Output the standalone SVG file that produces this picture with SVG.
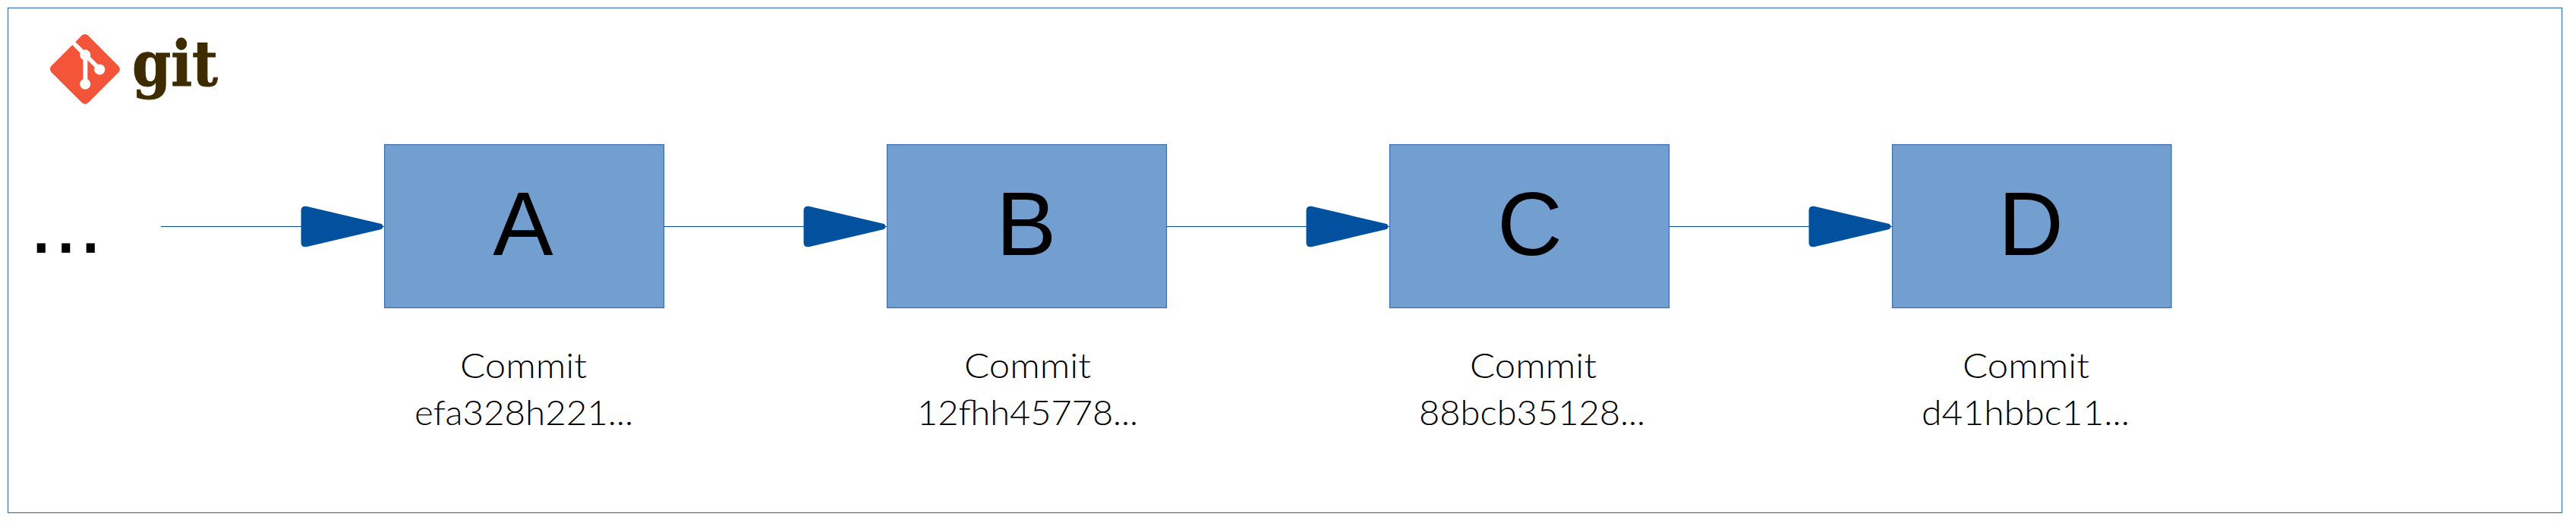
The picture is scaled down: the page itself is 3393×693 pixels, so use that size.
<svg xmlns="http://www.w3.org/2000/svg" width="3393" height="693" viewBox="0 0 3393 693">
  <style>
    .frame { fill: #ffffff; stroke: #3a6fb0; stroke-width: 1.2; }
    .box { fill: #739ed0; stroke: #3a6dac; stroke-width: 1.2; }
    .wire { stroke: #03519f; stroke-width: 1.2; fill: none; marker-end: url(#head); }
    .letter { font-family: "Liberation Sans", Arial, sans-serif; font-size: 119px; fill: #000; text-anchor: middle; }
    .cap { font-family: Lato, "Open Sans", sans-serif; font-weight: 300; font-size: 46px; fill: #000; }
    .dots { font-family: "Liberation Sans", Arial, sans-serif; font-size: 117px; fill: #000; }
    .word { font-family: "DejaVu Serif", "Liberation Serif", serif; font-weight: bold; font-size: 82px; fill: #3e2c00; stroke: #3e2c00; stroke-width: 1; }
  </style>
  <defs>
    <marker id="head" markerUnits="userSpaceOnUse" markerWidth="110" markerHeight="56" refX="110" refY="28" orient="auto" overflow="visible">
      <path d="M0,7 Q0,0.5 7,1.2 L106,24.6 Q110,28 106,31.4 L7,54.8 Q0,55.5 0,49 Z" fill="#02519f"/>
    </marker>
  </defs>
  <rect width="3393" height="693" fill="#ffffff"/>
  <rect id="frame" class="frame" x="10.5" y="10.5" width="3364" height="665"/>
  <g id="git-logo">
    <path transform="translate(66 45)" fill="#f4553a" d="M90.156 41.965 50.036 1.848a5.918 5.918 0 0 0-8.372 0l-8.328 8.332 10.566 10.566a7.03 7.03 0 0 1 7.23 1.684 7.034 7.034 0 0 1 1.669 7.277l10.187 10.184a7.028 7.028 0 0 1 7.278 1.672 7.04 7.04 0 0 1 0 9.957 7.05 7.05 0 0 1-9.965 0 7.044 7.044 0 0 1-1.528-7.66l-9.5-9.497V59.36a7.04 7.04 0 0 1 1.86 11.29 7.04 7.04 0 0 1-9.957 0 7.04 7.04 0 0 1 0-9.958 7.06 7.06 0 0 1 2.304-1.539V33.926a7.049 7.049 0 0 1-3.82-9.234L29.242 14.272 1.73 41.777a5.925 5.925 0 0 0 0 8.371L41.852 90.27a5.925 5.925 0 0 0 8.37 0l39.934-39.934a5.925 5.925 0 0 0 0-8.371"/>
    <text class="word" x="174" y="113" textLength="113" lengthAdjust="spacingAndGlyphs">git</text>
  </g>
  <g id="connectors">
    <line class="wire" x1="212" y1="298.5" x2="506.5" y2="298.5"/>
    <line class="wire" x1="874.5" y1="298.5" x2="1168.5" y2="298.5"/>
    <line class="wire" x1="1536.5" y1="298.5" x2="1830.5" y2="298.5"/>
    <line class="wire" x1="2198.5" y1="298.5" x2="2492.5" y2="298.5"/>
  </g>
  <g id="ellipsis"><text class="dots" x="38" y="333">...</text></g>
  <g id="node-a">
    <rect class="box" x="506.5" y="190.5" width="368" height="215"/>
    <text class="letter" x="689" y="335.7">A</text>
    <text class="cap" x="606" y="498" textLength="167" lengthAdjust="spacingAndGlyphs">Commit</text>
    <text class="cap" x="546" y="560" textLength="288" lengthAdjust="spacingAndGlyphs">efa328h221...</text>
  </g>
  <g id="node-b">
    <rect class="box" x="1168.5" y="190.5" width="368" height="215"/>
    <text class="letter" x="1351.6" y="335.7">B</text>
    <text class="cap" x="1270" y="498" textLength="167" lengthAdjust="spacingAndGlyphs">Commit</text>
    <text class="cap" x="1208" y="560" textLength="291" lengthAdjust="spacingAndGlyphs">12fhh45778...</text>
  </g>
  <g id="node-c">
    <rect class="box" x="1830.5" y="190.5" width="368" height="215"/>
    <text class="letter" x="2015" y="335.7">C</text>
    <text class="cap" x="1936" y="498" textLength="167" lengthAdjust="spacingAndGlyphs">Commit</text>
    <text class="cap" x="1869" y="560" textLength="298" lengthAdjust="spacingAndGlyphs">88bcb35128...</text>
  </g>
  <g id="node-d">
    <rect class="box" x="2492.5" y="190.5" width="367.5" height="215"/>
    <text class="letter" x="2675" y="335.7">D</text>
    <text class="cap" x="2585" y="498" textLength="167" lengthAdjust="spacingAndGlyphs">Commit</text>
    <text class="cap" x="2531" y="560" textLength="274" lengthAdjust="spacingAndGlyphs">d41hbbc11...</text>
  </g>
</svg>
